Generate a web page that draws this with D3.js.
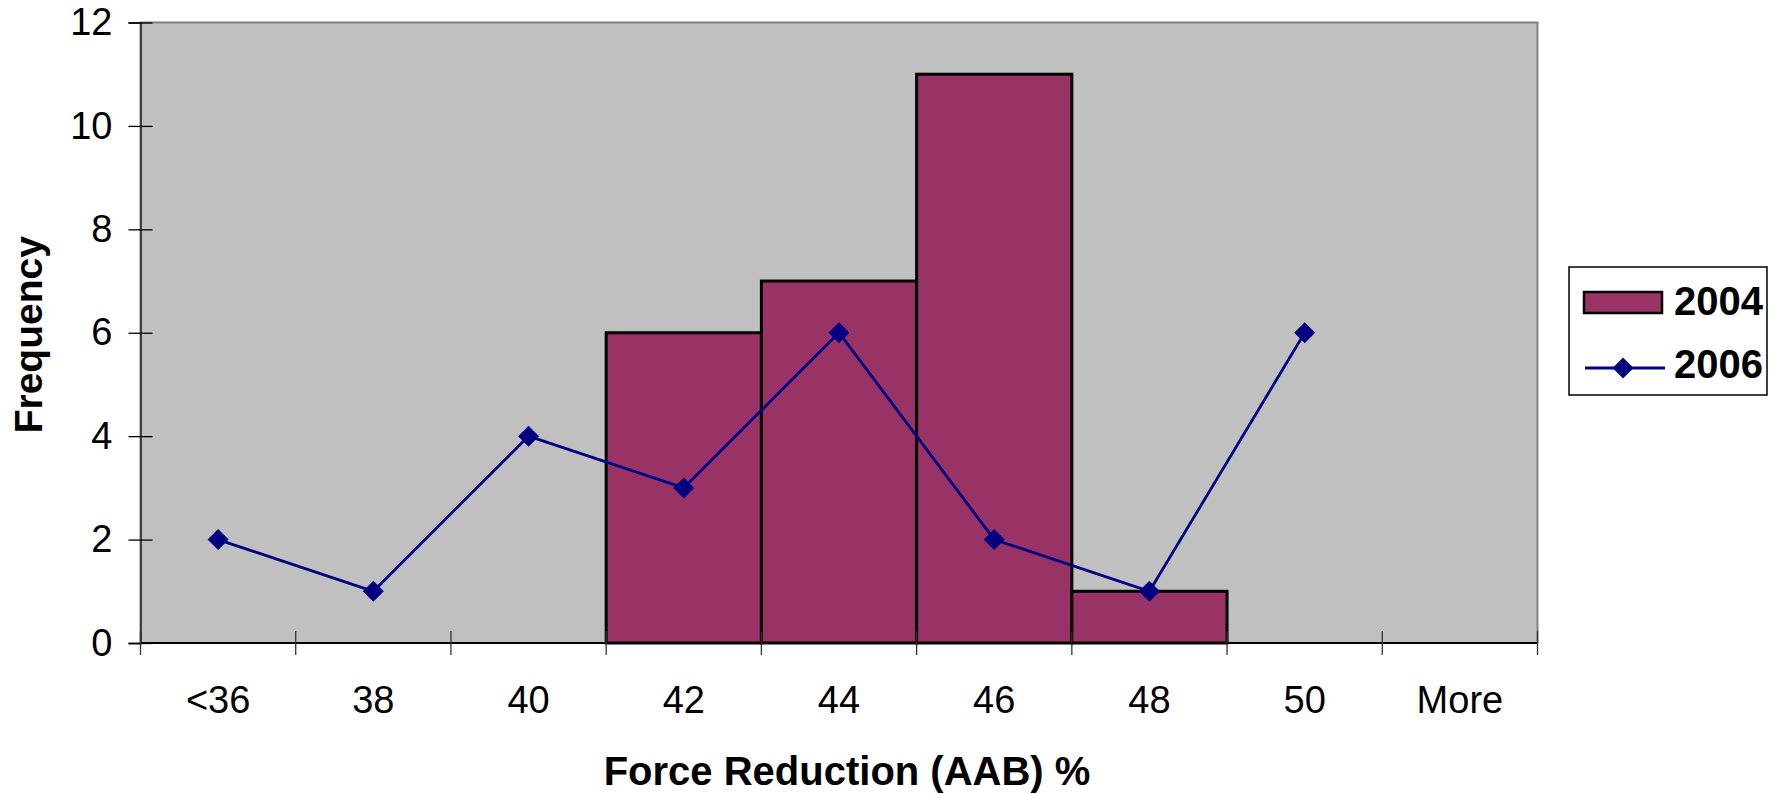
<!DOCTYPE html>
<html>
<head>
<meta charset="utf-8">
<script src="https://cdn.jsdelivr.net/npm/d3@7"></script>
<style>
  html, body { margin: 0; padding: 0; background: #fff; }
  svg { display: block; font-family: "Liberation Sans", Arial, sans-serif; }
</style>
</head>
<body>
<svg id="chart" width="1778" height="794"></svg>
<script>
// ---- data ----
const categories = ["<36", "38", "40", "42", "44", "46", "48", "50", "More"];
const values2004 = [0, 0, 0, 6, 7, 11, 1, 0, 0];
const values2006 = [2, 1, 4, 3, 6, 2, 1, 6, null];
const yTicks = [0, 2, 4, 6, 8, 10, 12];
const seriesNames = ["2004", "2006"];
const xTitle = "Force Reduction (AAB) %";
const yTitle = "Frequency";

// ---- layout ----
const W = 1778, H = 794;
const plot = { left: 140.5, right: 1537.5, top: 22.5, bottom: 643 };
const svg = d3.select("#chart");

const x = d3.scaleBand().domain(categories).range([plot.left, plot.right]).padding(0);
const y = d3.scaleLinear().domain([0, 12]).range([plot.bottom, plot.top]);

// plot area
svg.append("rect")
  .attr("x", plot.left).attr("y", plot.top)
  .attr("width", plot.right - plot.left).attr("height", plot.bottom - plot.top)
  .attr("fill", "#c0c0c0").attr("stroke", "#808080").attr("stroke-width", 2);

// bars 2004
svg.append("g").selectAll("rect")
  .data(categories.map((c, i) => ({ c, v: values2004[i] })).filter(d => d.v > 0))
  .join("rect")
  .attr("x", d => x(d.c))
  .attr("y", d => y(d.v))
  .attr("width", x.bandwidth())
  .attr("height", d => y(0) - y(d.v))
  .attr("fill", "#993366")
  .attr("stroke", "#000")
  .attr("stroke-width", 3);

// y axis
const yAxis = svg.append("g")
  .attr("transform", `translate(${plot.left},0)`)
  .call(d3.axisLeft(y).tickValues(yTicks).tickSize(12).tickPadding(16));
yAxis.select(".domain").attr("stroke", "#404040").attr("stroke-width", 2);
yAxis.selectAll(".tick line").attr("x1", 12).attr("x2", -12).attr("stroke", "#000").attr("stroke-width", 1.3);
yAxis.selectAll(".tick text")
  .attr("font-size", 38).attr("fill", "#000")
  .attr("font-family", "'Liberation Sans', Arial, sans-serif");

// x axis line
svg.append("line")
  .attr("x1", plot.left).attr("x2", plot.right)
  .attr("y1", plot.bottom).attr("y2", plot.bottom)
  .attr("stroke", "#000").attr("stroke-width", 2);

// x boundary ticks (crossing)
const boundaries = d3.range(categories.length + 1);
svg.append("g").selectAll("line")
  .data(boundaries)
  .join("line")
  .attr("x1", i => plot.left + i * x.step())
  .attr("x2", i => plot.left + i * x.step())
  .attr("y1", plot.bottom - 12).attr("y2", plot.bottom + 12)
  .attr("stroke", "#333").attr("stroke-width", 1.3);

// x labels via axis
const xAxis = svg.append("g")
  .attr("transform", `translate(0,${plot.bottom})`)
  .call(d3.axisBottom(x).tickSize(0).tickPadding(43));
xAxis.select(".domain").remove();
xAxis.selectAll(".tick text")
  .attr("font-size", 38).attr("fill", "#000")
  .attr("font-family", "'Liberation Sans', Arial, sans-serif");

// line 2006
const pts = categories.map((c, i) => ({ c, v: values2006[i] })).filter(d => d.v !== null);
const line = d3.line().x(d => x(d.c) + x.bandwidth() / 2).y(d => y(d.v));
svg.append("path")
  .datum(pts)
  .attr("d", line)
  .attr("fill", "none")
  .attr("stroke", "#000080")
  .attr("stroke-width", 2.8);

const diamondPath = (r) => `M0,${-r}L${r},0L0,${r}L${-r},0Z`;
svg.append("g").selectAll("path")
  .data(pts)
  .join("path")
  .attr("transform", d => `translate(${x(d.c) + x.bandwidth() / 2},${y(d.v)})`)
  .attr("d", diamondPath(10.5))
  .attr("fill", "#000080");

// axis titles
svg.append("text")
  .attr("x", (plot.left + plot.right) / 2 + 8)
  .attr("y", 785)
  .attr("text-anchor", "middle")
  .attr("font-size", 40).attr("font-weight", "bold")
  .text(xTitle);

svg.append("text")
  .attr("transform", `translate(42,${(plot.top + plot.bottom) / 2 + 2}) rotate(-90)`)
  .attr("text-anchor", "middle")
  .attr("font-size", 39).attr("font-weight", "bold")
  .text(yTitle);

// legend
const lg = svg.append("g");
lg.append("rect")
  .attr("x", 1569).attr("y", 267).attr("width", 198).attr("height", 128)
  .attr("fill", "#fff").attr("stroke", "#000").attr("stroke-width", 1.5);
lg.append("rect")
  .attr("x", 1584).attr("y", 292).attr("width", 78).attr("height", 21)
  .attr("fill", "#993366").attr("stroke", "#000").attr("stroke-width", 2.5);
lg.append("line")
  .attr("x1", 1585).attr("x2", 1665).attr("y1", 368).attr("y2", 368)
  .attr("stroke", "#000080").attr("stroke-width", 2.8);
lg.append("path")
  .attr("transform", "translate(1623,368)")
  .attr("d", diamondPath(10.5)).attr("fill", "#000080");
lg.selectAll("text.leg")
  .data(seriesNames)
  .join("text")
  .attr("class", "leg")
  .attr("x", 1674)
  .attr("y", (d, i) => 315 + i * 63)
  .attr("font-size", 40).attr("font-weight", "bold")
  .text(d => d);
</script>
</body>
</html>
